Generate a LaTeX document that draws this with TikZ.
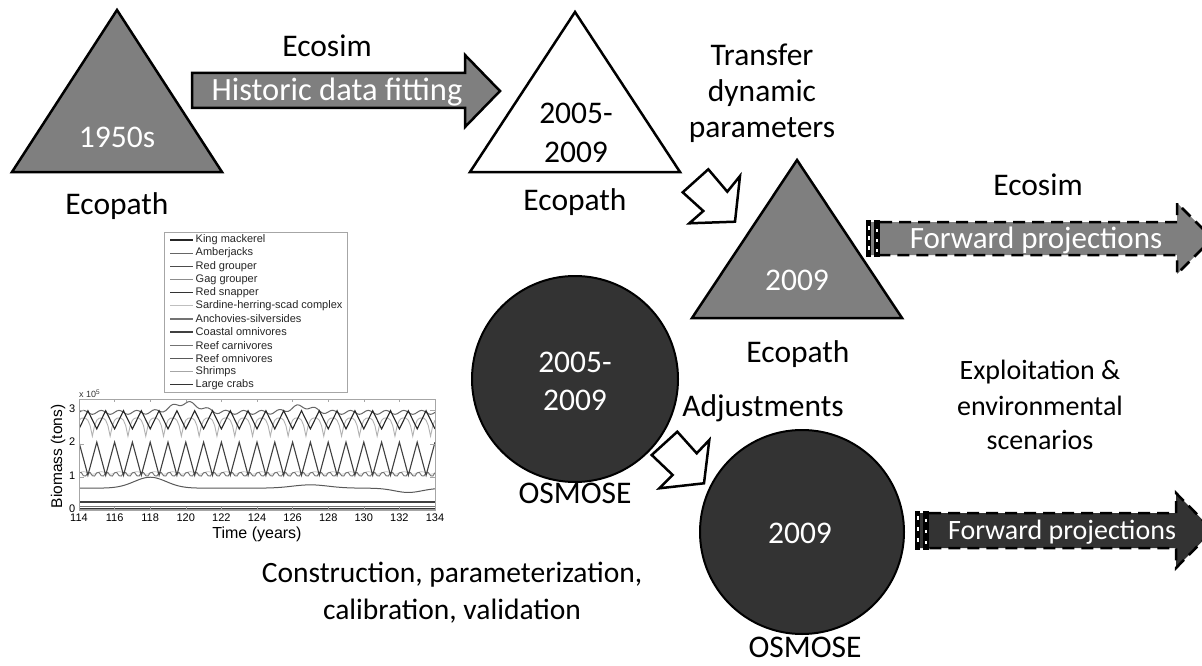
\documentclass[tikz,border=0pt]{standalone}
\usepackage{fontspec}
\setmainfont{Carlito}
\newfontfamily\plotfont{Liberation Sans}
\definecolor{midgray}{HTML}{7F7F7F}
\definecolor{darkfill}{HTML}{333333}
\tikzset{
  lab/.style={inner sep=0pt, anchor=center, font=\fontsize{31.5}{36}\selectfont},
  wlab/.style={lab, text=white},
  shapeline/.style={draw=black, line width=2.5pt, line join=miter},
  dashline/.style={draw=black, line width=2.5pt, dash pattern=on 12pt off 7pt},
  plotlab/.style={inner sep=0pt, font=\plotfont\fontsize{11}{12}\selectfont},
  axlab/.style={inner sep=0pt, font=\plotfont\fontsize{11}{12}\selectfont},
}
\begin{document}
\begin{tikzpicture}[x=1pt,y=-1pt]
\useasboundingbox[fill=white] (0,0) rectangle (1202,666);

% ---------- triangles ----------
\draw[shapeline, fill=midgray] (117,10) -- (12,172) -- (222,172) -- cycle;
\node[wlab] (t1) at (117,137) {1950s};
\node[lab] (ep1) at (117,206) {Ecopath};

\draw[shapeline, fill=white] (575,12) -- (470,172) -- (680,172) -- cycle;
\node[lab] (t2a) at (576,113) {2005-};
\node[lab] (t2b) at (576,152) {2009};
\node[lab] (ep2) at (575,202) {Ecopath};

\draw[shapeline, fill=midgray] (797,160) -- (692,318) -- (902,318) -- cycle;
\node[wlab] (t3) at (797,280) {2009};
\node[lab] (ep3) at (798,354) {Ecopath};

% ---------- historic arrow ----------
\draw[shapeline, fill=midgray] (192,73) -- (465,73) -- (465,55) -- (500,91) -- (465,127) -- (465,108) -- (192,108) -- cycle;
\node[wlab, font=\fontsize{32.5}{36}\selectfont] (hist) at (337,92) {Historic data fitting};
\node[lab] (es1) at (327,46) {Ecosim};

% ---------- transfer text ----------
\node[lab] (tr1) at (762,55) {Transfer};
\node[lab] (tr2) at (762,93) {dynamic};
\node[lab] (tr3) at (762,130) {parameters};

% ---------- hollow arrows ----------
\draw[shapeline, fill=white] (682.7,192.3) -- (708.3,169.3) -- (727.3,191.7) -- (740,176) -- (735,221.7) -- (689.3,223.3) -- (703.3,211) -- cycle;
\draw[shapeline, fill=white] (651.7,455) -- (677.3,431.7) -- (696.7,453.3) -- (709.3,440) -- (704,483.3) -- (659.3,488.3) -- (672.7,475) -- cycle;

% ---------- forward projection arrow 1 ----------
\fill[midgray] (868,222) -- (1177,222) -- (1177,203) -- (1212.5,238.5) -- (1177,274) -- (1177,255) -- (868,255) -- cycle;
\draw[dashline] (880,222) -- (1177,222) -- (1177,203) -- (1212.5,238.5) -- (1177,274) -- (1177,255) -- (880,255);
\fill[black] (866,220) rectangle (871,257);
\fill[black] (874,220) rectangle (880,257);
\foreach \yy in {226,236,246} {\fill[white] (867.5,\yy) rectangle (869.5,\yy+4); \fill[white] (876,\yy+3) rectangle (878,\yy+6);}
\node[wlab, font=\fontsize{31}{34}\selectfont] (fp1) at (1036,240) {Forward projections};
\node[lab] (es2) at (1038,185) {Ecosim};

% ---------- circles ----------
\draw[draw=black, line width=2pt, fill=darkfill] (575,379) circle[radius=103pt];
\node[wlab] (c1a) at (575,362) {2005-};
\node[wlab] (c1b) at (575,400) {2009};
\node[lab] (os1) at (575,493) {OSMOSE};

\node[lab] (adj) at (763,408) {Adjustments};

\draw[draw=black, line width=2pt, fill=darkfill] (802,532) circle[radius=102pt];
\node[wlab] (c2) at (800,533) {2009};
\node[lab] (os2) at (805,647) {OSMOSE};

% ---------- forward projection arrow 2 ----------
\fill[darkfill] (917,513) -- (1176,513) -- (1176,493) -- (1213,530.5) -- (1176,568) -- (1176,548) -- (917,548) -- cycle;
\draw[dashline] (929,513) -- (1176,513) -- (1176,493) -- (1213,530.5) -- (1176,568) -- (1176,548) -- (929,548);
\fill[black] (915,511) rectangle (920,550);
\fill[black] (923,511) rectangle (929,550);
\foreach \yy in {516,527,538} {\fill[white] (916.5,\yy) rectangle (918.5,\yy+4); \fill[white] (925,\yy+3) rectangle (927,\yy+6);}
\node[wlab, font=\fontsize{28}{30}\selectfont] (fp2) at (1062,532) {Forward projections};

% ---------- scenario text ----------
\node[lab, font=\fontsize{28}{30}\selectfont] (sc1) at (1040,372) {Exploitation \&};
\node[lab, font=\fontsize{28}{30}\selectfont] (sc2) at (1040,406) {environmental};
\node[lab, font=\fontsize{28}{30}\selectfont] (sc3) at (1040,440) {scenarios};

% ---------- construction text ----------
\node[lab, font=\fontsize{29.5}{34}\selectfont] (cn1) at (452,575) {Construction, parameterization,};
\node[lab, font=\fontsize{29.5}{34}\selectfont] (cn2) at (452,611) {calibration, validation};

% ---------- plot legend ----------
\draw[gray!70, line width=0.7pt, fill=white] (164.3,232.3) rectangle (347.7,392.3);
\foreach \n/\c/\w [count=\i] in {King mackerel/black!85/1.3, Amberjacks/black!60/1.2, Red grouper/black!70/1.2, Gag grouper/black!45/1.2, Red snapper/black!80/1.2, Sardine-herring-scad complex/black!25/1.2, Anchovies-silversides/black!55/1.2, Coastal omnivores/black!75/1.8, Reef carnivores/black!55/1.2, Reef omnivores/black!65/1.2, Shrimps/black!35/1.2, Large crabs/black!80/1.2} {
  \draw[\c, line width=\w pt] (170,{240+(\i-1)*13.15}) -- (193,{240+(\i-1)*13.15});
  \node[plotlab, anchor=west, text=black!85] (leg\i) at (195.5,{240+(\i-1)*13.15}) {\n};
}

% ---------- plot axes ----------
\node[plotlab, anchor=south west, font=\plotfont\fontsize{9}{10}\selectfont, text=black!80] (xe) at (79,398) {x 10\raisebox{0.6ex}{\fontsize{6.5}{7}\selectfont 5}};
\begin{scope}[shift={(79,510)}, x=17.8pt, y=33.1pt]
  \begin{scope}
    \clip (0,0) rectangle (20,3.35);
    \draw[black!20, line width=0.8pt] plot[domain=0:20, samples=161] (\x,{1.12+0.04*sin(360*\x)});
    \draw[black!55, line width=0.9pt] plot[domain=0:20, samples=161] (\x,{1.08+0.07*sin(720*\x+40)});
    \draw[black!65, line width=1pt] plot[domain=0:20, samples=161] (\x,{0.66+0.33*exp(0-((\x-4)^2)/1.6)+0.1*exp(0-((\x-13)^2)/2)-0.13*exp(0-((\x-18.5)^2)/1.2)});
    \draw[black!30, line width=0.9pt] plot[domain=0:20, samples=161] (\x,{2.78-0.55*(abs(mod(\x+10.25,1)-0.5)*2)^3});
    \draw[black!60, line width=1pt] plot[domain=0:20, samples=161] (\x,{2.95+0.06*sin(360*\x)+0.28*exp(0-((\x-6)^2)/1.2)+0.18*exp(0-((\x-12.5)^2)/0.8)});
    \draw[black!85, line width=1.1pt] plot[domain=0:20, samples=161] (\x,{2.45+0.55*abs(mod(\x+10.5,1)-0.5)*2});
    \draw[black!75, line width=1.1pt] plot[domain=0:20, samples=161] (\x,{1.05+1.0*abs(mod(\x+10,1)-0.5)*2});
    \draw[black!75, line width=1.4pt] (0,0.24) -- (20,0.24);
    \draw[black!55, line width=0.9pt] (0,0.1) -- (20,0.1);
    \draw[black!80, line width=1pt] (0,0.06) -- (20,0.06);
    \draw[black!40, line width=0.9pt] (0,0.03) -- (20,0.03);
  \end{scope}
  \draw[gray!70, line width=0.7pt] (0,0) rectangle (20,3.35);
  \foreach \k in {0,2,...,20} {
    \draw[gray!70, line width=0.5pt] (\k,0) -- (\k,0.09);
    \draw[gray!70, line width=0.5pt] (\k,3.35) -- (\k,3.26);
    \pgfmathtruncatemacro{\yr}{114+\k}
    \node[axlab, anchor=north] (xt\k) at (\k,-0.1) {\yr};
  }
  \foreach \v in {0,1,2,3} {
    \draw[gray!70, line width=0.5pt] (0,\v) -- (0.3,\v);
    \draw[gray!70, line width=0.5pt] (20,\v) -- (19.7,\v);
    \node[axlab, anchor=east] (yt\v) at (-0.2,\v+0.05) {\v};
  }
  \node[inner sep=0pt, font=\plotfont\fontsize{16}{18}\selectfont] (xlab) at (10,-0.74) {Time (years)};
  \node[inner sep=0pt, font=\plotfont\fontsize{15.5}{18}\selectfont, rotate=90] (ylab) at (-1.17,1.62) {Biomass (tons)};
\end{scope}
\end{tikzpicture}
\end{document}
